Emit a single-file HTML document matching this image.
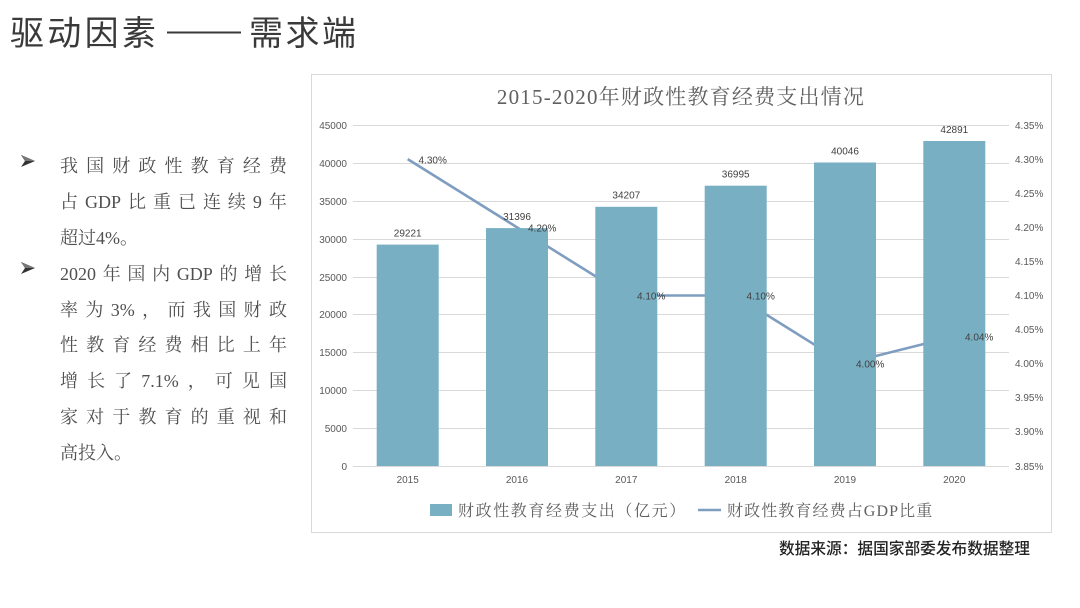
<!DOCTYPE html>
<html>
<head>
<meta charset="utf-8">
<style>
  html,body{margin:0;padding:0;background:#fff;}
  body{width:1080px;height:608px;overflow:hidden;position:relative;}
  svg{position:absolute;left:0;top:0;}
  .ln{position:absolute;left:60px;width:227px;height:36px;line-height:36px;font-size:18px;
      font-family:"Liberation Serif","Noto Serif CJK SC",serif;color:#505050;white-space:nowrap;}
  .j{display:flex;justify-content:space-between;}
</style>
</head>
<body>
<svg width="1080" height="608" viewBox="0 0 1080 608" xmlns="http://www.w3.org/2000/svg">
  <!-- Main title -->
  <g font-family="'Noto Sans CJK SC', sans-serif" font-size="34" fill="#3a3a3a">
    <text x="10" y="45" letter-spacing="3.3">驱动因素</text>
    <text x="249" y="45" letter-spacing="2.5">需求端</text>
  </g>
  <line x1="167" x2="241" y1="32.5" y2="32.5" stroke="#3a3a3a" stroke-width="2"/>

  <!-- Bullets -->
  <g fill="#333">
    <polygon points="21,155 35,161 21,167 25,161"/>
    <polygon points="21,262 35,268 21,274 25,268"/>
  </g>
  <g fill="#777">
    <polygon points="21,155 35,161 25,161"/>
    <polygon points="21,262 35,268 25,268"/>
  </g>

  <!-- Chart frame -->
  <rect x="311.5" y="74.5" width="740" height="458" fill="#fff" stroke="#d9d9d9" stroke-width="1"/>

  <!-- Chart title -->
  <text x="681" y="104" text-anchor="middle" font-family="'Liberation Serif','Noto Serif CJK SC',serif" font-size="21" letter-spacing="1.2" fill="#606060">2015-2020年财政性教育经费支出情况</text>

  <!-- Gridlines -->
  <g stroke="#d9d9d9" stroke-width="1">
    <line x1="353" x2="1009" y1="125.5" y2="125.5"/>
    <line x1="353" x2="1009" y1="163.5" y2="163.5"/>
    <line x1="353" x2="1009" y1="201.5" y2="201.5"/>
    <line x1="353" x2="1009" y1="239.5" y2="239.5"/>
    <line x1="353" x2="1009" y1="277.5" y2="277.5"/>
    <line x1="353" x2="1009" y1="314.5" y2="314.5"/>
    <line x1="353" x2="1009" y1="352.5" y2="352.5"/>
    <line x1="353" x2="1009" y1="390.5" y2="390.5"/>
    <line x1="353" x2="1009" y1="428.5" y2="428.5"/>
    <line x1="353" x2="1009" y1="466.5" y2="466.5"/>
  </g>

  <!-- Left axis labels -->
  <g font-family="'Liberation Sans',sans-serif" font-size="10" fill="#595959" text-anchor="end">
    <text x="347" y="129">45000</text>
    <text x="347" y="167">40000</text>
    <text x="347" y="205">35000</text>
    <text x="347" y="243">30000</text>
    <text x="347" y="281">25000</text>
    <text x="347" y="318">20000</text>
    <text x="347" y="356">15000</text>
    <text x="347" y="394">10000</text>
    <text x="347" y="432">5000</text>
    <text x="347" y="470">0</text>
  </g>

  <!-- Right axis labels -->
  <g font-family="'Liberation Sans',sans-serif" font-size="10" fill="#595959">
    <text x="1015" y="129">4.35%</text>
    <text x="1015" y="163">4.30%</text>
    <text x="1015" y="197">4.25%</text>
    <text x="1015" y="231">4.20%</text>
    <text x="1015" y="265">4.15%</text>
    <text x="1015" y="299">4.10%</text>
    <text x="1015" y="333">4.05%</text>
    <text x="1015" y="367">4.00%</text>
    <text x="1015" y="401">3.95%</text>
    <text x="1015" y="435">3.90%</text>
    <text x="1015" y="470">3.85%</text>
  </g>

  <!-- Line (behind bars) -->
  <polyline points="407.7,159.1 517,227.3 626.3,295.5 735.7,295.5 845,363.7 954.3,336.4" fill="none" stroke="#7f9dbf" stroke-width="2.6" stroke-linejoin="round"/>

  <!-- Bars -->
  <g fill="#79afc3">
    <rect x="376.7" y="244.6" width="62" height="221.4"/>
    <rect x="486" y="228.1" width="62" height="237.9"/>
    <rect x="595.3" y="206.8" width="62" height="259.2"/>
    <rect x="704.7" y="185.7" width="62" height="280.3"/>
    <rect x="814" y="162.5" width="62" height="303.5"/>
    <rect x="923.3" y="141" width="62" height="325"/>
  </g>

  <!-- Bar labels -->
  <g font-family="'Liberation Sans',sans-serif" font-size="10" fill="#404040" text-anchor="middle">
    <text x="407.7" y="236.5">29221</text>
    <text x="517" y="220">31396</text>
    <text x="626.3" y="198.7">34207</text>
    <text x="735.7" y="177.6">36995</text>
    <text x="845" y="154.4">40046</text>
    <text x="954.3" y="132.9">42891</text>
  </g>

  <!-- Line labels -->
  <g font-family="'Liberation Sans',sans-serif" font-size="10" fill="#404040">
    <text x="418.5" y="163.5">4.30%</text>
    <text x="528" y="231.5">4.20%</text>
    <text x="637" y="299.5">4.10%</text>
    <text x="746.5" y="299.5">4.10%</text>
    <text x="856" y="367.5">4.00%</text>
    <text x="965" y="340.5">4.04%</text>
  </g>

  <!-- Category labels -->
  <g font-family="'Liberation Sans',sans-serif" font-size="10" fill="#595959" text-anchor="middle">
    <text x="407.7" y="483">2015</text>
    <text x="517" y="483">2016</text>
    <text x="626.3" y="483">2017</text>
    <text x="735.7" y="483">2018</text>
    <text x="845" y="483">2019</text>
    <text x="954.3" y="483">2020</text>
  </g>

  <!-- Legend -->
  <rect x="430" y="504" width="22" height="12" fill="#79afc3"/>
  <text x="458" y="516" font-family="'Liberation Serif','Noto Serif CJK SC',serif" font-size="16" letter-spacing="1.6" fill="#606060">财政性教育经费支出（亿元）</text>
  <line x1="698" x2="721" y1="510" y2="510" stroke="#7f9dbf" stroke-width="2.6"/>
  <text x="727" y="516" font-family="'Liberation Serif','Noto Serif CJK SC',serif" font-size="16" letter-spacing="1.1" fill="#606060">财政性教育经费占GDP比重</text>

  <!-- Source -->
  <text x="779" y="554" font-family="'Noto Sans CJK SC',sans-serif" font-size="15.7" font-weight="500" fill="#222">数据来源：据国家部委发布数据整理</text>
</svg>

<!-- Left text -->
<div class="ln j" style="top:148px"><span>我</span><span>国</span><span>财</span><span>政</span><span>性</span><span>教</span><span>育</span><span>经</span><span>费</span></div>
<div class="ln j" style="top:184px"><span>占</span><span>GDP</span><span>比</span><span>重</span><span>已</span><span>连</span><span>续</span><span>9</span><span>年</span></div>
<div class="ln" style="top:220px">超过4%。</div>
<div class="ln j" style="top:256px"><span>2020</span><span>年</span><span>国</span><span>内</span><span>GDP</span><span>的</span><span>增</span><span>长</span></div>
<div class="ln j" style="top:292px"><span>率</span><span>为</span><span>3%</span><span>，</span><span>而</span><span>我</span><span>国</span><span>财</span><span>政</span></div>
<div class="ln j" style="top:327px"><span>性</span><span>教</span><span>育</span><span>经</span><span>费</span><span>相</span><span>比</span><span>上</span><span>年</span></div>
<div class="ln j" style="top:363px"><span>增</span><span>长</span><span>了</span><span>7.1%</span><span>，</span><span>可</span><span>见</span><span>国</span></div>
<div class="ln j" style="top:399px"><span>家</span><span>对</span><span>于</span><span>教</span><span>育</span><span>的</span><span>重</span><span>视</span><span>和</span></div>
<div class="ln" style="top:435px">高投入。</div>
</body>
</html>
